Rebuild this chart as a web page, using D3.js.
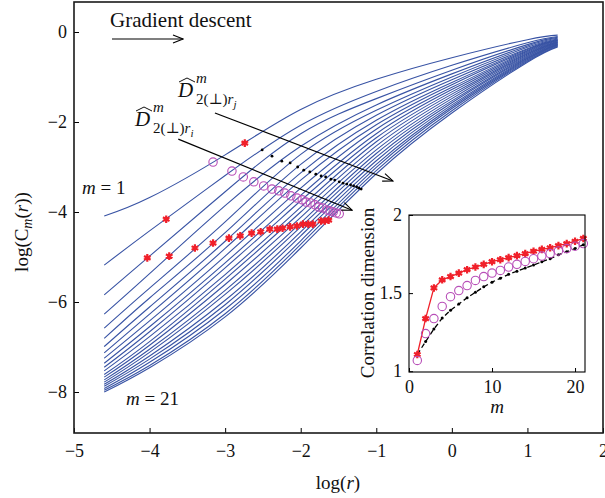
<!doctype html>
<html lang="en">
<head>
<meta charset="utf-8">
<title>Correlation sums and correlation dimension</title>
<style>
  body { margin: 0; background: #fff; }
  text { font-family: "Liberation Serif", "DejaVu Serif", serif; fill: #111; }
</style>
</head>
<body>
<div id="container"></div>
<script src="https://d3js.org/d3.v7.min.js"></script>
<script>
const width = 605;
const height = 498;

// log(r) positions where the curves were read
const logR = [-4.6, -4, -3, -2, -1, 0, 1, 1.4];

// log(C_m(r)) for m = 1 .. 21, one row per m
const logC = [
  [-4.09, -3.68, -2.73, -1.72, -1.05, -0.57, -0.17, -0.07],
  [-5.18, -4.42, -3.19, -2.07, -1.32, -0.74, -0.24, -0.10],
  [-5.84, -4.98, -3.55, -2.26, -1.48, -0.85, -0.28, -0.12],
  [-6.27, -5.37, -3.86, -2.54, -1.62, -0.93, -0.31, -0.14],
  [-6.58, -5.69, -4.22, -2.72, -1.74, -1.00, -0.34, -0.155],
  [-6.81, -5.91, -4.46, -2.94, -1.85, -1.06, -0.37, -0.17],
  [-6.99, -6.11, -4.65, -3.13, -1.96, -1.12, -0.39, -0.18],
  [-7.13, -6.27, -4.81, -3.29, -2.06, -1.17, -0.41, -0.19],
  [-7.25, -6.42, -4.98, -3.47, -2.16, -1.23, -0.43, -0.20],
  [-7.36, -6.55, -5.13, -3.63, -2.26, -1.28, -0.45, -0.21],
  [-7.45, -6.66, -5.24, -3.75, -2.35, -1.33, -0.47, -0.22],
  [-7.53, -6.77, -5.39, -3.89, -2.44, -1.38, -0.49, -0.23],
  [-7.61, -6.88, -5.49, -4.00, -2.53, -1.43, -0.51, -0.24],
  [-7.67, -6.96, -5.61, -4.12, -2.62, -1.48, -0.53, -0.25],
  [-7.73, -7.05, -5.74, -4.24, -2.70, -1.53, -0.55, -0.26],
  [-7.78, -7.12, -5.83, -4.33, -2.78, -1.57, -0.57, -0.27],
  [-7.83, -7.20, -5.96, -4.44, -2.86, -1.62, -0.59, -0.28],
  [-7.87, -7.27, -6.06, -4.53, -2.94, -1.66, -0.61, -0.29],
  [-7.92, -7.34, -6.16, -4.64, -3.01, -1.70, -0.63, -0.30],
  [-7.96, -7.41, -6.26, -4.72, -3.08, -1.75, -0.65, -0.315],
  [-8.00, -7.46, -6.33, -4.80, -3.15, -1.80, -0.67, -0.33]
];

// points marked on the curves (r_i stars, middle circles, r_j dots)
const starX = [-2.74, -3.78, -4.03, -3.74, -3.40, -3.16, -2.95, -2.80, -2.65, -2.53, -2.41, -2.31, -2.24, -2.14, -2.05, -1.97, -1.90, -1.84, -1.73, -1.68, -1.63];
const starY = [-2.47, -4.16, -5.02, -4.98, -4.80, -4.69, -4.58, -4.53, -4.47, -4.44, -4.38, -4.38, -4.36, -4.33, -4.31, -4.27, -4.27, -4.27, -4.20, -4.20, -4.18];
const circleX = [-3.16, -2.91, -2.76, -2.62, -2.49, -2.38, -2.29, -2.21, -2.13, -2.05, -1.98, -1.93, -1.87, -1.81, -1.76, -1.71, -1.65, -1.61, -1.57, -1.53, -1.49];
const circleY = [-2.89, -3.09, -3.22, -3.33, -3.42, -3.49, -3.53, -3.58, -3.64, -3.69, -3.73, -3.78, -3.80, -3.84, -3.89, -3.91, -3.96, -3.98, -4.00, -4.02, -4.04];
const dotX = [-2.74, -2.51, -2.38, -2.25, -2.14, -2.04, -1.96, -1.88, -1.80, -1.73, -1.67, -1.60, -1.55, -1.49, -1.44, -1.39, -1.34, -1.30, -1.26, -1.23, -1.20];
const dotY = [-2.47, -2.62, -2.76, -2.87, -2.91, -3.00, -3.07, -3.11, -3.16, -3.20, -3.22, -3.27, -3.29, -3.33, -3.36, -3.38, -3.40, -3.42, -3.44, -3.47, -3.49];

// inset: correlation dimension against m
const mValues = [1, 2, 3, 4, 5, 6, 7, 8, 9, 10, 11, 12, 13, 14, 15, 16, 17, 18, 19, 20, 21];
const dimRi = [1.107, 1.337, 1.533, 1.585, 1.606, 1.628, 1.650, 1.667, 1.684, 1.701, 1.714, 1.727, 1.740, 1.753, 1.768, 1.780, 1.790, 1.804, 1.817, 1.832, 1.850];
const dimMid = [1.069, 1.241, 1.337, 1.415, 1.477, 1.516, 1.548, 1.581, 1.606, 1.628, 1.645, 1.667, 1.684, 1.703, 1.720, 1.737, 1.753, 1.770, 1.785, 1.800, 1.817];
const dimRj = [1.107, 1.190, 1.270, 1.340, 1.390, 1.430, 1.470, 1.505, 1.540, 1.570, 1.595, 1.620, 1.640, 1.660, 1.680, 1.700, 1.720, 1.745, 1.765, 1.785, 1.810];

const xTicks = [-5, -4, -3, -2, -1, 0, 1, 2];
const yTicks = [0, -2, -4, -6, -8];
const insetXTicks = [0, 10, 20];
const insetYTicks = [1, 1.5, 2];

const svg = d3.select("#container").append("svg")
    .attr("width", width)
    .attr("height", height)
    .attr("viewBox", "0 0 " + width + " " + height);

const x = d3.scaleLinear().domain([-5, 2]).range([74, 603]);
const y = d3.scaleLinear().domain([-8.911, 0.667]).range([433, 2]);

const blue = "#3853a4";
const red = "#f0202a";
const magenta = "#b84fb8";

svg.append("defs").append("marker")
    .attr("id", "arrow")
    .attr("viewBox", "0 0 12 10")
    .attr("refX", 11).attr("refY", 5)
    .attr("markerWidth", 12).attr("markerHeight", 10)
    .attr("markerUnits", "userSpaceOnUse")
    .attr("orient", "auto")
  .append("path")
    .attr("d", "M1,1 L11,5 L1,9")
    .attr("fill", "none")
    .attr("stroke", "#000")
    .attr("stroke-width", 1.1);

// curves
const line = d3.line()
    .x(d => x(d[0]))
    .y(d => y(d[1]))
    .curve(d3.curveNatural);

svg.append("g")
  .selectAll("path")
  .data(logC)
  .join("path")
    .attr("d", row => line(row.map((v, i) => [logR[i], v])))
    .attr("fill", "none")
    .attr("stroke", blue)
    .attr("stroke-width", 1.1);

// marked points
svg.append("g")
  .selectAll("circle")
  .data(dotX)
  .join("circle")
    .attr("cx", d => x(d))
    .attr("cy", (d, i) => y(dotY[i]))
    .attr("r", 1.4)
    .attr("fill", "#000");

svg.append("g")
  .selectAll("circle")
  .data(circleX)
  .join("circle")
    .attr("cx", d => x(d))
    .attr("cy", (d, i) => y(circleY[i]))
    .attr("r", 4.2)
    .attr("fill", "none")
    .attr("stroke", magenta)
    .attr("stroke-width", 1.1);

const star = d3.symbol().type(d3.symbolAsterisk).size(40);
function drawStars(g, xs, ys, sx, sy) {
    const s = g.append("g").selectAll("g")
      .data(xs)
      .join("g")
        .attr("transform", (d, i) => "translate(" + sx(d) + "," + sy(ys[i]) + ")");
    s.append("path").attr("d", star).attr("stroke", red).attr("stroke-width", 2.2).attr("fill", "none");
    s.append("circle").attr("r", 2.2).attr("fill", red);
}
drawStars(svg, starX, starY, x, y);

// annotation arrows
svg.append("line")
    .attr("x1", x(-3.135)).attr("y1", y(-1.8))
    .attr("x2", x(-0.78)).attr("y2", y(-3.31))
    .attr("stroke", "#000").attr("stroke-width", 1.2)
    .attr("marker-end", "url(#arrow)");
svg.append("line")
    .attr("x1", x(-3.62)).attr("y1", y(-2.38))
    .attr("x2", x(-1.32)).attr("y2", y(-3.96))
    .attr("stroke", "#000").attr("stroke-width", 1.2)
    .attr("marker-end", "url(#arrow)");
svg.append("line")
    .attr("x1", 112).attr("y1", 39)
    .attr("x2", 183).attr("y2", 39)
    .attr("stroke", "#000").attr("stroke-width", 1.2)
    .attr("marker-end", "url(#arrow)");

svg.append("text").attr("x", 110).attr("y", 27)
    .attr("font-size", 21).text("Gradient descent");

function dLabel(x0, yb, sub) {
    const g = svg.append("g");
    g.append("text").attr("x", x0).attr("y", yb)
        .attr("font-size", 21).attr("font-style", "italic").text("D");
    g.append("path")
        .attr("d", "M" + (x0 + 1) + "," + (yb - 15) + " L" + (x0 + 9) + "," + (yb - 19) + " L" + (x0 + 17) + "," + (yb - 15))
        .attr("fill", "none").attr("stroke", "#111").attr("stroke-width", 1);
    g.append("text").attr("x", x0 + 18).attr("y", yb - 14)
        .attr("font-size", 15).attr("font-style", "italic").text("m");
    const t = g.append("text").attr("x", x0 + 18).attr("y", yb + 7).attr("font-size", 15);
    t.append("tspan").text("2(\u22a5)");
    t.append("tspan").attr("font-style", "italic").text("r");
    t.append("tspan").attr("font-style", "italic").attr("font-size", 11).attr("dy", 4).text(sub);
}
dLabel(178, 97, "j");
dLabel(135, 126, "i");

const m1 = svg.append("text").attr("x", 82).attr("y", 194).attr("font-size", 19);
m1.append("tspan").attr("font-style", "italic").text("m");
m1.append("tspan").text(" = 1");
const m21 = svg.append("text").attr("x", 126).attr("y", 405).attr("font-size", 19);
m21.append("tspan").attr("font-style", "italic").text("m");
m21.append("tspan").text(" = 21");

// main axes
const xAxis = svg.append("g")
    .attr("transform", "translate(0,433)")
    .call(d3.axisBottom(x).tickValues(xTicks).tickFormat(d3.format("d")).tickSizeInner(-5).tickSizeOuter(0).tickPadding(11));
const yAxis = svg.append("g")
    .attr("transform", "translate(74,0)")
    .call(d3.axisLeft(y).tickValues(yTicks).tickFormat(d3.format("d")).tickSizeInner(-5).tickSizeOuter(0).tickPadding(7));
[xAxis, yAxis].forEach(a => {
    a.select(".domain").remove();
    a.selectAll("line").attr("stroke", "#000");
    a.selectAll("text").attr("font-size", 18).attr("font-family", "Liberation Serif, serif").attr("fill", "#111");
});

svg.append("rect")
    .attr("x", 74).attr("y", 2).attr("width", 529).attr("height", 431)
    .attr("fill", "none").attr("stroke", "#1a1a1a").attr("stroke-width", 1.6);

const xl = svg.append("text").attr("x", 338).attr("y", 489).attr("text-anchor", "middle").attr("font-size", 19);
xl.append("tspan").text("log(");
xl.append("tspan").attr("font-style", "italic").text("r");
xl.append("tspan").text(")");

const yl = svg.append("text").attr("transform", "translate(28,232) rotate(-90)")
    .attr("text-anchor", "middle").attr("font-size", 19);
yl.append("tspan").text("log(C");
yl.append("tspan").attr("font-style", "italic").attr("font-size", 14).attr("dy", 4).text("m");
yl.append("tspan").attr("dy", -4).text("(");
yl.append("tspan").attr("font-style", "italic").text("r");
yl.append("tspan").text("))");

// inset
svg.append("rect")
    .attr("x", 357).attr("y", 196).attr("width", 245).attr("height", 224)
    .attr("fill", "#fff");

const ix = d3.scaleLinear().domain([0, 21.2]).range([409, 585]);
const iy = d3.scaleLinear().domain([0.995, 2]).range([372, 215]);

const inset = svg.append("g");

inset.append("path")
    .datum(mValues)
    .attr("d", d3.line().x(d => ix(d)).y((d, i) => iy(dimRj[i])))
    .attr("fill", "none").attr("stroke", "#000").attr("stroke-width", 1.3)
    .attr("stroke-dasharray", "5,3");
inset.append("g").selectAll("circle")
  .data(mValues)
  .join("circle")
    .attr("cx", d => ix(d)).attr("cy", (d, i) => iy(dimRj[i]))
    .attr("r", 1.5).attr("fill", "#000");

inset.append("path")
    .datum(mValues)
    .attr("d", d3.line().x(d => ix(d)).y((d, i) => iy(dimRi[i])))
    .attr("fill", "none").attr("stroke", red).attr("stroke-width", 1.3);
drawStars(inset, mValues, dimRi, ix, iy);

inset.append("g").selectAll("circle")
  .data(mValues)
  .join("circle")
    .attr("cx", d => ix(d)).attr("cy", (d, i) => iy(dimMid[i]))
    .attr("r", 4.2)
    .attr("fill", "none").attr("stroke", magenta).attr("stroke-width", 1.1);

const ixAxis = inset.append("g")
    .attr("transform", "translate(0,372)")
    .call(d3.axisBottom(ix).tickValues(insetXTicks).tickSizeInner(-4).tickSizeOuter(0).tickPadding(8));
const iyAxis = inset.append("g")
    .attr("transform", "translate(409,0)")
    .call(d3.axisLeft(iy).tickValues(insetYTicks).tickFormat(d3.format("")).tickSizeInner(-4).tickSizeOuter(0).tickPadding(7));
[ixAxis, iyAxis].forEach(a => {
    a.select(".domain").remove();
    a.selectAll("line").attr("stroke", "#000");
    a.selectAll("text").attr("font-size", 18).attr("font-family", "Liberation Serif, serif").attr("fill", "#111");
});

inset.append("rect")
    .attr("x", 409).attr("y", 215).attr("width", 176).attr("height", 157)
    .attr("fill", "none").attr("stroke", "#000").attr("stroke-width", 1.1);

inset.append("text").attr("x", 497).attr("y", 413)
    .attr("text-anchor", "middle").attr("font-size", 19).attr("font-style", "italic").text("m");
inset.append("text").attr("transform", "translate(374,293) rotate(-90)")
    .attr("text-anchor", "middle").attr("font-size", 19).text("Correlation dimension");
</script>
</body>
</html>
